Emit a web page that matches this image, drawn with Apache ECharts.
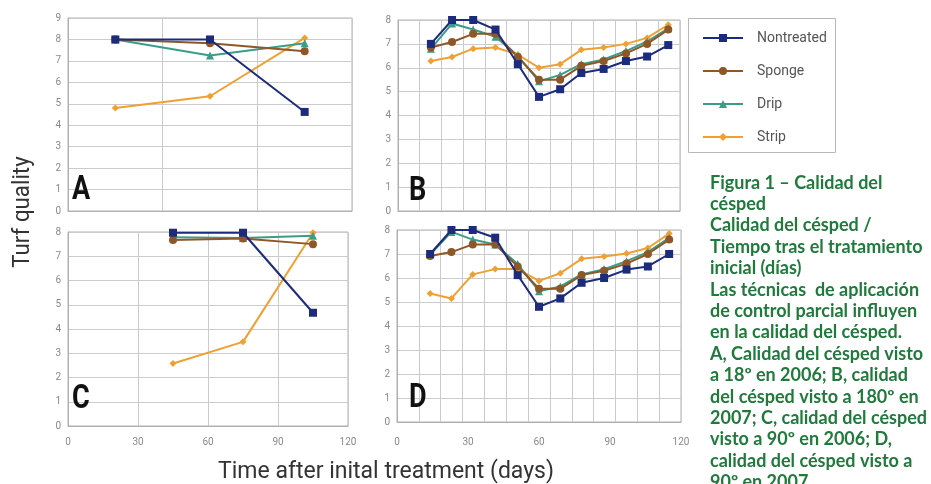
<!DOCTYPE html>
<html><head><meta charset="utf-8">
<script src="https://cdn.jsdelivr.net/npm/echarts@6/dist/echarts.min.js"></script>
<style>html,body{margin:0;padding:0;background:#fff}#c{width:931px;height:484px}</style>
</head><body><div id="c"></div>
<script>
// ---- data ----
const seriesNames = ['Nontreated', 'Sponge', 'Drip', 'Strip'];
const daysA = [20, 60, 100];
const daysC = [45, 75, 105];
const daysBD = [14, 23, 32, 41.5, 51, 60, 69, 78, 87.5, 97, 106, 115];
const xTicks = [0, 30, 60, 90, 120];

const A_nontreated = [8.0, 8.0, 4.62];
const A_sponge = [8.0, 7.82, 7.45];
const A_drip = [8.0, 7.25, 7.82];
const A_strip = [4.8, 5.35, 8.07];

const B_nontreated = [7.0, 8.0, 8.0, 7.6, 6.15, 4.78, 5.1, 5.78, 5.95, 6.28, 6.47, 6.95];
const B_sponge = [6.85, 7.08, 7.42, 7.42, 6.45, 5.5, 5.5, 6.08, 6.28, 6.6, 7.0, 7.6];
const B_drip = [6.8, 7.85, 7.6, 7.3, 6.5, 5.43, 5.7, 6.15, 6.35, 6.7, 7.1, 7.65];
const B_strip = [6.28, 6.45, 6.8, 6.85, 6.55, 6.0, 6.15, 6.75, 6.85, 7.0, 7.25, 7.8];

const C_nontreated = [7.97, 7.97, 4.67];
const C_sponge = [7.67, 7.73, 7.5];
const C_drip = [7.78, 7.75, 7.85];
const C_strip = [2.58, 3.47, 7.97];

const D_nontreated = [7.0, 8.0, 8.0, 7.68, 6.12, 4.8, 5.15, 5.8, 6.0, 6.35, 6.48, 7.0];
const D_sponge = [6.92, 7.08, 7.4, 7.4, 6.48, 5.55, 5.55, 6.12, 6.3, 6.6, 7.0, 7.6];
const D_drip = [6.97, 7.92, 7.6, 7.4, 6.58, 5.45, 5.65, 6.15, 6.37, 6.7, 7.08, 7.67];
const D_strip = [5.35, 5.15, 6.15, 6.37, 6.37, 5.88, 6.2, 6.8, 6.9, 7.02, 7.25, 7.85];

const caption = [
  'Figura 1 – Calidad del', 'césped', 'Calidad del césped /', 'Tiempo tras el tratamiento',
  'inicial (días)', 'Las técnicas  de aplicación', 'de control parcial influyen',
  'en la calidad del césped.', 'A, Calidad del césped visto', 'a 18º en 2006; B, calidad',
  'del césped visto a 180º en', '2007; C, calidad del césped', 'visto a 90º en 2006; D,',
  'calidad del césped visto a', '90º en 2007'
];

// ---- styles ----
const NARROW = "Roboto, 'Liberation Sans', sans-serif";
const colors = {Nontreated: '#1d2b7c', Sponge: '#8e5727', Drip: '#3b9c88', Strip: '#f0a033'};
const symbols = {Nontreated: ['rect', 8], Sponge: ['circle', 8], Drip: ['triangle', 8], Strip: ['diamond', 7]};
const gridLine = {show: true, lineStyle: {color: '#cbcbcb', width: 1}};
const axLabel = {color: '#8a8a8a', fontSize: 10, fontFamily: NARROW};

const grids = [
  {left: 68, top: 18, width: 284, height: 193},
  {left: 398, top: 20, width: 282, height: 191},
  {left: 68, top: 232, width: 280, height: 194},
  {left: 397, top: 230, width: 284, height: 192}
].map(g => Object.assign({show: true, borderColor: '#b0b0b0', borderWidth: 1, backgroundColor: '#fff'}, g));

const xAxis = [
  {type: 'value', gridIndex: 0, min: 0, max: 120, interval: 40, axisLabel: {show: false}, axisTick: {show: false}, axisLine: {lineStyle: {color: '#b0b0b0'}}, splitLine: gridLine},
  {type: 'value', gridIndex: 1, min: 0, max: 120, interval: 30, axisLabel: {show: false}, axisTick: {show: false}, axisLine: {lineStyle: {color: '#b0b0b0'}}, splitLine: {show: false}},
  {type: 'value', gridIndex: 2, min: 0, max: 120, interval: 30, axisLabel: Object.assign({margin: 11}, axLabel), axisTick: {show: false}, axisLine: {lineStyle: {color: '#b0b0b0'}}, splitLine: gridLine},
  {type: 'value', gridIndex: 3, min: 0, max: 120, interval: 30, axisLabel: Object.assign({margin: 15}, axLabel), axisTick: {show: false}, axisLine: {lineStyle: {color: '#b0b0b0'}}, splitLine: {show: false}},
  {type: 'value', gridIndex: 1, position: 'top', min: 0, max: 120, interval: 120 / 13, axisLabel: {show: false}, axisTick: {show: false}, axisLine: {show: false}, splitLine: gridLine},
  {type: 'value', gridIndex: 3, position: 'top', min: 0, max: 120, interval: 120 / 13, axisLabel: {show: false}, axisTick: {show: false}, axisLine: {show: false}, splitLine: gridLine}
];

function yAx(i, max) {
  return {type: 'value', gridIndex: i, min: 0, max: max, interval: 1,
    axisLabel: Object.assign({margin: 7}, axLabel), axisTick: {show: false},
    axisLine: {show: true, lineStyle: {color: '#b0b0b0'}}, splitLine: gridLine};
}
const yAxis = [yAx(0, 9), yAx(1, 8), yAx(2, 8), yAx(3, 8)];

function mk(name, idx, days, vals) {
  const c = colors[name];
  return {
    type: 'line', name: name, xAxisIndex: idx, yAxisIndex: idx,
    data: days.map((d, i) => [d, vals[i]]),
    symbol: symbols[name][0], symbolSize: symbols[name][1], showSymbol: true,
    lineStyle: {color: c, width: 2}, itemStyle: {color: c, borderWidth: 0},
    animation: false, z: name === 'Nontreated' ? 5 : 3
  };
}

const panelData = [
  [daysA, [A_nontreated, A_sponge, A_drip, A_strip]],
  [daysBD, [B_nontreated, B_sponge, B_drip, B_strip]],
  [daysC, [C_nontreated, C_sponge, C_drip, C_strip]],
  [daysBD, [D_nontreated, D_sponge, D_drip, D_strip]]
];
const series = [];
panelData.forEach((p, idx) => {
  [3, 2, 1, 0].forEach(k => series.push(mk(seriesNames[k], idx, p[0], p[1][k])));
});

function panelLabel(t, x, y) {
  return {type: 'text', x: x, y: y, z: 100, scaleX: 0.82,
    style: {text: t, fontSize: 33, fontWeight: 'bold', fontFamily: NARROW, fill: '#111', textAlign: 'left', textVerticalAlign: 'middle'}};
}

const option = {
  animation: false,
  grid: grids, xAxis: xAxis, yAxis: yAxis, series: series,
  legend: {
    orient: 'vertical', left: 697, top: 26, itemWidth: 40, itemHeight: 10, itemGap: 19,
    data: seriesNames,
    textStyle: {color: '#555', fontSize: 14, fontFamily: NARROW, padding: [0, 0, 0, 9]}
  },
  title: {
    text: caption.join('\n'), left: 710, top: 172, padding: 0,
    textStyle: {color: '#1f7a3c', fontSize: 18, fontWeight: 'bold', fontFamily: "Lato, 'Noto Sans', sans-serif", lineHeight: 21.4}
  },
  graphic: [
    {type: 'rect', shape: {x: 688.5, y: 18.5, width: 147, height: 134}, style: {fill: '#fff', stroke: '#b8b8b8', lineWidth: 1}, z: -1},
    panelLabel('A', 72, 191),
    panelLabel('B', 409, 192),
    panelLabel('C', 72, 400),
    panelLabel('D', 409, 399),
    {type: 'text', x: 23, y: 212, rotation: Math.PI / 2, scaleX: 0.97,
      style: {text: 'Turf quality', fontSize: 23, fontFamily: NARROW, fill: '#333', textAlign: 'center', textVerticalAlign: 'middle'}},
    {type: 'text', x: 386, y: 472, scaleX: 1.0,
      style: {text: 'Time after inital treatment (days)', fontSize: 23, fontFamily: NARROW, fill: '#333', textAlign: 'center', textVerticalAlign: 'middle'}}
  ]
};

const chart = echarts.init(document.getElementById('c'), null, {renderer: 'canvas'});
chart.setOption(option);
</script>
</body></html>
